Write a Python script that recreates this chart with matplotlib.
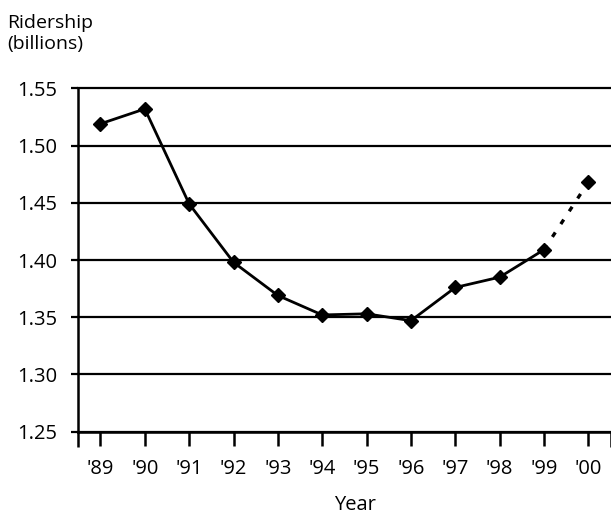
import matplotlib
matplotlib.use("Agg")
import matplotlib.pyplot as plt

plt.rcParams['font.family'] = ['Open Sans', 'DejaVu Sans']

years = ["'89", "'90", "'91", "'92", "'93", "'94", "'95", "'96", "'97", "'98", "'99", "'00"]
ridership = [1.519, 1.532, 1.449, 1.398, 1.369, 1.352, 1.353, 1.347, 1.376, 1.385, 1.409, 1.468]
y_ticks = [1.25, 1.30, 1.35, 1.40, 1.45, 1.50, 1.55]

fig = plt.figure(figsize=(6.11, 5.15), dpi=100)
ax = fig.add_axes([78.3 / 611, 1 - 431.7 / 515, (610.5 - 78.3) / 611, (431.7 - 88.3) / 515])

x = list(range(len(years)))
# gridlines
for v in y_ticks:
    ax.axhline(v, color='black', lw=1.6, zorder=1, clip_on=False)

# solid part up to '99
ax.plot(x[:-1], ridership[:-1], color='black', lw=2.0, marker='D', ms=7, zorder=3, clip_on=False)
# dashed projection '99 -> '00
ax.plot(x[-2:], ridership[-2:], color='black', lw=2.4, ls=(0, (1.6, 3.0)), zorder=3, clip_on=False)
ax.plot(x[-1:], ridership[-1:], color='black', lw=0, marker='D', ms=7, zorder=3, clip_on=False)

ax.set_xlim(-0.5, len(years) - 0.5)
ax.set_ylim(1.25, 1.55)

ax.set_xticks(x)
ax.set_xticklabels(years, fontsize=14.5)
ax.set_xticks([-0.5, len(years) - 0.5], minor=True)
ax.set_yticks(y_ticks)
ax.set_yticklabels([f"{v:.2f}" for v in y_ticks], fontsize=14.5)

ax.tick_params(axis='x', which='major', length=10, width=1.8, direction='out', pad=10, color='black')
ax.tick_params(axis='x', which='minor', length=11, width=1.8, direction='out', color='black')
ax.tick_params(axis='y', length=5, width=1.6, direction='out', pad=10, color='black')

for s in ['top', 'right']:
    ax.spines[s].set_visible(False)
ax.spines['left'].set_linewidth(1.8)
ax.spines['bottom'].set_linewidth(1.8)

fig.text(7 / 611, 1 - 14 / 515, "Ridership\n(billions)", ha='left', va='top', fontsize=14, linespacing=1.25)
fig.text(355 / 611, 1 - 505 / 515, "Year", ha='center', va='center', fontsize=14.5)

fig.savefig("out.png", dpi=100)
